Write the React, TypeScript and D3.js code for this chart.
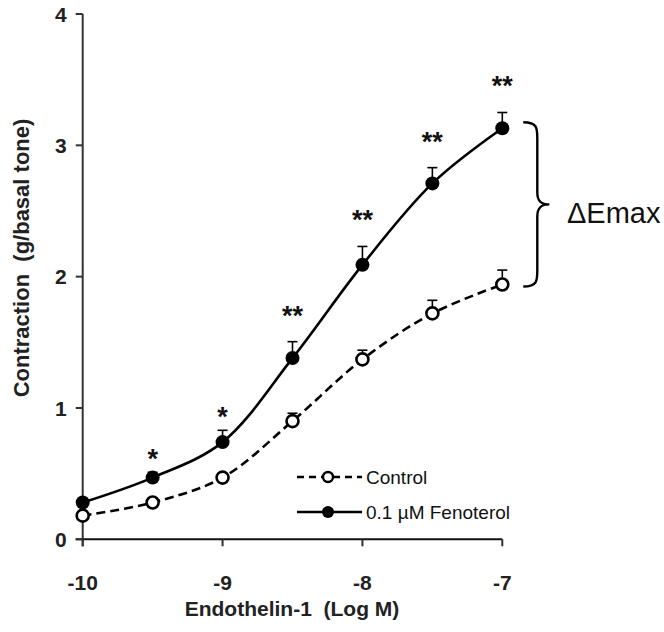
import React from "react";
import * as d3 from "d3";

const logConc = [-10, -9.5, -9, -8.5, -8, -7.5, -7];
const controlMean = [0.18, 0.28, 0.47, 0.9, 1.37, 1.72, 1.94];
const controlSem = [0.02, 0.02, 0.03, 0.06, 0.07, 0.1, 0.11];
const fenoMean = [0.28, 0.47, 0.74, 1.38, 2.09, 2.71, 3.13];
const fenoSem = [0.03, 0.04, 0.09, 0.125, 0.14, 0.12, 0.12];
const significance = ["", "*", "*", "**", "**", "**", "**"];
const xTicks = [-10, -9, -8, -7];
const yTicks = [0, 1, 2, 3, 4];
const legendLabels = ["Control", "0.1 µM Fenoterol"];
const xTitle = "Endothelin-1  (Log M)";
const yTitle = "Contraction  (g/basal tone)";
const braceLabel = "ΔEmax";

const W = 664;
const H = 632;
const FONT = "'Liberation Sans', Arial, sans-serif";

export default function App() {
  const x = d3.scaleLinear().domain([-10, -7]).range([82.7, 502.3]);
  const y = d3.scaleLinear().domain([0, 4]).range([539.3, 14]);

  const line = d3
    .line<number>()
    .x((_, i) => x(logConc[i]))
    .y((v) => y(v))
    .curve(d3.curveCatmullRom.alpha(0.5));

  const r = 7;
  const yAxisX = x(-10);
  const xAxisY = y(0);

  // brace between fenoterol max and control max
  const topY = y(fenoMean[6]) - 6;
  const botY = y(controlMean[6]) + 2;
  const bx = x(-7) + 21;
  const midY = (topY + botY) / 2;
  const bw = 14;
  const brace = `M ${bx} ${topY} C ${bx + bw} ${topY}, ${bx + bw} ${topY + 6}, ${bx + bw} ${topY + 16}
    L ${bx + bw} ${midY - 12} C ${bx + bw} ${midY - 3}, ${bx + bw + 4} ${midY}, ${bx + bw + 12} ${midY}
    C ${bx + bw + 4} ${midY}, ${bx + bw} ${midY + 3}, ${bx + bw} ${midY + 12}
    L ${bx + bw} ${botY - 16} C ${bx + bw} ${botY - 6}, ${bx + bw} ${botY}, ${bx} ${botY}`;

  return (
    <svg width={W} height={H} style={{ position: "absolute", left: 0, top: 0, background: "#fff" }} fontFamily={FONT}>
      <rect x={0} y={0} width={W} height={H} fill="#fff" />
      {/* axes */}
      <line x1={yAxisX} x2={yAxisX} y1={y(4)} y2={xAxisY + 7} stroke="#333" strokeWidth={2} />
      <line x1={yAxisX - 7} x2={x(-7)} y1={xAxisY} y2={xAxisY} stroke="#111" strokeWidth={2} />
      {yTicks.map((t) => (
        <g key={"yt" + t}>
          <line x1={yAxisX - 7} x2={yAxisX} y1={y(t)} y2={y(t)} stroke="#333" strokeWidth={2} />
          <text x={yAxisX - 16} y={y(t)} dy="0.36em" textAnchor="end" fontSize={21} fontWeight="bold" fill="#222">
            {t}
          </text>
        </g>
      ))}
      {xTicks.map((t) => (
        <g key={"xt" + t}>
          <line x1={x(t)} x2={x(t)} y1={xAxisY} y2={xAxisY + 7} stroke="#333" strokeWidth={2} />
          <text x={x(t)} y={xAxisY + 43} dy="0.36em" textAnchor="middle" fontSize={21} fontWeight="bold" fill="#222">
            {t}
          </text>
        </g>
      ))}
      <text x={292} y={616} textAnchor="middle" fontSize={21} fontWeight="bold" fill="#222" style={{ whiteSpace: "pre" }}>
        {xTitle}
      </text>
      <text
        transform={`translate(29, 258) rotate(-90)`}
        textAnchor="middle"
        fontSize={22}
        fontWeight="bold"
        fill="#222"
        style={{ whiteSpace: "pre" }}
      >
        {yTitle}
      </text>

      {/* lines */}
      <path d={line(controlMean) || ""} fill="none" stroke="#000" strokeWidth={2.6} strokeDasharray="9,5" />
      <path d={line(fenoMean) || ""} fill="none" stroke="#000" strokeWidth={2.6} />

      {/* error bars */}
      {controlMean.map((m, i) => (
        <g key={"ce" + i} stroke="#000" strokeWidth={1.6}>
          <line x1={x(logConc[i])} x2={x(logConc[i])} y1={y(m)} y2={y(m + controlSem[i])} />
          <line x1={x(logConc[i]) - 5} x2={x(logConc[i]) + 5} y1={y(m + controlSem[i])} y2={y(m + controlSem[i])} />
        </g>
      ))}
      {fenoMean.map((m, i) => (
        <g key={"fe" + i} stroke="#000" strokeWidth={1.6}>
          <line x1={x(logConc[i])} x2={x(logConc[i])} y1={y(m)} y2={y(m + fenoSem[i])} />
          <line x1={x(logConc[i]) - 5} x2={x(logConc[i]) + 5} y1={y(m + fenoSem[i])} y2={y(m + fenoSem[i])} />
        </g>
      ))}

      {/* markers */}
      {controlMean.map((m, i) => (
        <circle key={"cm" + i} cx={x(logConc[i])} cy={y(m)} r={r - 1} fill="#fff" stroke="#000" strokeWidth={2.6} />
      ))}
      {fenoMean.map((m, i) => (
        <circle key={"fm" + i} cx={x(logConc[i])} cy={y(m)} r={r} fill="#000" />
      ))}

      {/* significance */}
      {significance.map((s, i) =>
        s ? (
          <text
            key={"s" + i}
            x={x(logConc[i])}
            y={y(fenoMean[i] + fenoSem[i]) - (s.length > 1 ? 33 : 20) + 16}
            textAnchor="middle"
            fontSize={27}
            fontWeight="bold"
            fill="#111"
          >
            {s}
          </text>
        ) : null
      )}

      {/* brace */}
      <path d={brace} fill="none" stroke="#000" strokeWidth={2.4} />
      <text x={567} y={223} fontSize={29} fill="#111">
        {braceLabel}
      </text>

      {/* legend */}
      <line x1={297} x2={362} y1={477} y2={477} stroke="#000" strokeWidth={2.6} strokeDasharray="7,5" />
      <circle cx={328} cy={477} r={5} fill="#fff" stroke="#000" strokeWidth={2.4} />
      <text x={366} y={477} dy="0.36em" fontSize={19} fill="#111">
        {legendLabels[0]}
      </text>
      <line x1={297} x2={362} y1={512} y2={512} stroke="#000" strokeWidth={2.6} />
      <circle cx={328} cy={512} r={6} fill="#000" />
      <text x={366} y={512} dy="0.36em" fontSize={19} fill="#111">
        {legendLabels[1]}
      </text>
    </svg>
  );
}
